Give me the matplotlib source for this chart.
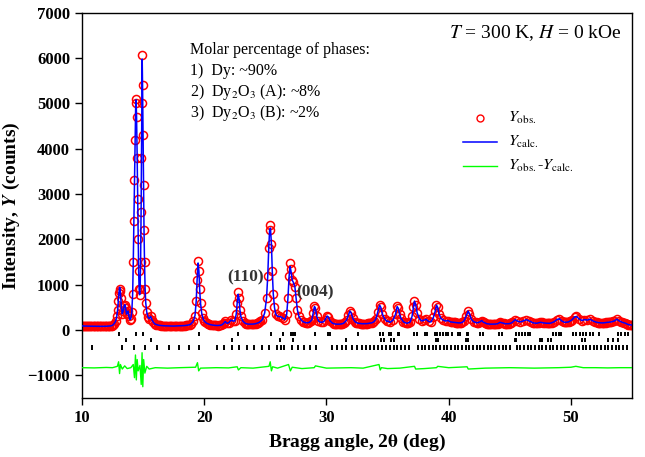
import matplotlib
matplotlib.use("Agg")
import matplotlib.pyplot as plt
import numpy as np

plt.rcParams['font.family'] = ['Liberation Serif', 'DejaVu Serif']
plt.rcParams['mathtext.fontset'] = 'stix'

obs_x = [10.0, 10.25, 10.5, 10.75, 11.0, 11.25, 11.5, 11.75, 12.0, 12.25, 12.45, 12.6,
         12.75, 12.85, 12.92, 12.98, 13.03, 13.08, 13.13, 13.18, 13.23, 13.3, 13.38, 13.45,
         13.52, 13.58, 13.65, 13.72, 13.78, 13.85, 13.92, 14.0, 14.08, 14.15, 14.2, 14.25,
         14.3, 14.35, 14.4, 14.43, 14.47, 14.52, 14.56, 14.6, 14.64, 14.68, 14.72, 14.76,
         14.8, 14.84, 14.87, 14.9, 14.93, 14.96, 15.0, 15.04, 15.08, 15.12, 15.17, 15.22,
         15.3, 15.4, 15.5, 15.62, 15.72, 15.85, 16.0, 16.3, 16.6, 17.0, 17.4, 17.8, 18.2,
         18.6, 18.9, 19.1, 19.25, 19.35, 19.42, 19.5, 19.57, 19.63, 19.7, 19.8, 19.9, 20.0,
         20.2, 20.5, 20.8, 21.1, 21.4, 21.6, 21.72, 21.85, 22.0, 22.2, 22.35, 22.5, 22.62,
         22.7, 22.78, 22.85, 22.92, 23.0, 23.15, 23.35, 23.6, 23.9, 24.2, 24.5, 24.75, 24.95,
         25.1, 25.2, 25.28, 25.35, 25.42, 25.5, 25.57, 25.65, 25.75, 25.85, 26.0, 26.15,
         26.3, 26.45, 26.6, 26.75, 26.85, 26.95, 27.03, 27.1, 27.2, 27.3, 27.42, 27.52,
         27.62, 27.75, 27.9, 28.1, 28.35, 28.6, 28.8, 28.92, 29.02, 29.1, 29.2, 29.35, 29.55,
         29.75, 29.9, 30.05, 30.15, 30.3, 30.5, 30.8, 31.1, 31.4, 31.65, 31.8, 31.92, 32.02,
         32.15, 32.35, 32.6, 32.9, 33.2, 33.5, 33.8, 34.05, 34.2, 34.35, 34.45, 34.58, 34.75,
         34.95, 35.05, 35.2, 35.45, 35.65, 35.78, 35.88, 35.98, 36.1, 36.3, 36.6, 36.85,
         37.0, 37.12, 37.2, 37.3, 37.42, 37.6, 37.8, 38.0, 38.15, 38.35, 38.55, 38.75, 38.9,
         39.0, 39.1, 39.2, 39.35, 39.55, 39.75, 39.95, 40.15, 40.4, 40.7, 41.0, 41.25, 41.45,
         41.58, 41.7, 41.85, 42.05, 42.3, 42.55, 42.7, 42.85, 43.1, 43.4, 43.7, 44.0, 44.2,
         44.35, 44.6, 44.9, 45.2, 45.45, 45.6, 45.85, 46.1, 46.35, 46.6, 46.9, 47.2, 47.5,
         47.7, 48.0, 48.3, 48.6, 48.85, 49.05, 49.25, 49.5, 49.8, 50.1, 50.3, 50.45, 50.65,
         50.9, 51.1, 51.35, 51.55, 51.8, 52.1, 52.4, 52.7, 53.0, 53.3, 53.55, 53.75, 53.95,
         54.2, 54.45, 54.7, 55.0]
obs_y = [90, 88, 86, 85, 84, 83, 82, 82, 84, 88, 100, 130,
         190, 300, 450, 650, 820, 900, 870, 700, 500, 360, 420, 530,
         560, 480, 350, 380, 420, 300, 230, 250, 400, 800, 1500, 2400,
         3300, 4200, 5000, 5100, 4700, 3800, 2900, 2000, 1300, 900, 780, 900,
         1500, 2600, 3800, 5000, 6060, 5400, 4300, 3200, 2200, 1500, 900, 600,
         400, 290, 250, 300, 230, 170, 130, 105, 95, 90, 88, 90, 95,
         105, 130, 190, 320, 650, 1100, 1520, 1300, 900, 600, 370, 260, 200,
         150, 120, 105, 100, 110, 150, 190, 150, 160, 220, 200, 200, 350,
         600, 830, 700, 450, 300, 200, 150, 130, 130, 140, 170, 230, 380,
         700, 1200, 1800, 2200, 2310, 1900, 1300, 800, 500, 350, 300, 300,
         290, 260, 230, 350, 700, 1200, 1480, 1350, 1100, 1050, 950, 700,
         450, 300, 230, 180, 160, 170, 230, 380, 520, 480, 300, 200, 170,
         180, 230, 310, 290, 200, 150, 130, 130, 150, 220, 330, 420, 380,
         260, 180, 150, 140, 140, 150, 170, 250, 400, 550, 500, 350, 250,
         190, 200, 170, 220, 350, 520, 480, 350, 260, 180, 150, 180,
         300, 500, 640, 560, 380, 250, 200, 220, 240, 190, 180, 280, 420,
         550, 500, 360, 260, 220, 200, 210, 180, 170, 160, 160, 200, 320,
         420, 360, 240, 180, 160, 180, 210, 170, 140, 130, 130, 140, 170,
         160, 140, 140, 170, 230, 200, 180, 200, 230, 200, 160, 150, 170,
         160, 150, 150, 180, 230, 250, 200, 170, 180, 230, 290, 300, 250,
         210, 230, 220, 240, 200, 170, 160, 160, 170, 180, 200, 240, 200,
         170, 150, 120, 110]

bg_x = [10.1, 10.2, 10.35, 10.45, 10.6, 10.7, 10.85, 10.95, 11.1, 11.2, 11.35, 11.45,
        11.6, 11.7, 11.85, 11.95, 12.1, 12.2, 12.35, 12.52,
        15.95, 16.1, 16.2, 16.4, 16.5, 16.7, 16.8, 16.9, 17.1, 17.2, 17.3, 17.5, 17.6,
        17.7, 17.9, 18.0, 18.1, 18.3, 18.4, 18.5, 18.7, 18.8,
        20.1, 20.3, 20.4, 20.6, 20.7, 20.9, 21.0, 21.2, 21.3, 21.5,
        23.45, 23.5, 23.7, 23.8, 24.0, 24.1, 24.3, 24.4, 24.6,
        28.2, 28.45, 28.5, 28.7,
        30.6, 30.7, 30.9, 31.0, 31.2, 31.3, 31.5,
        32.45, 32.5, 32.7, 32.8, 33.0, 33.1, 33.3, 33.4, 33.6, 33.7, 33.9,
        36.4, 36.5, 36.7,
        40.3, 40.5, 40.6, 40.8, 40.9, 41.1,
        42.2, 42.4, 43.0, 43.2, 43.3, 43.5, 43.6, 43.8, 43.9, 44.1,
        44.5, 44.7, 44.8, 45.0, 45.1,
        46.75, 47.0, 47.1, 47.35, 47.6, 47.85, 48.1, 48.2, 48.45,
        49.4, 49.6, 49.7, 49.9, 50.0,
        52.0, 52.25, 52.3, 52.55, 52.6, 52.85, 52.9, 53.15, 53.2, 53.4,
        54.1, 54.35, 54.55, 54.6, 54.85, 54.9]
bg_y = [92, 87, 89, 86, 88, 84, 86, 83, 85, 82, 84, 81,
        83, 82, 84, 83, 86, 87, 92, 110,
        140, 120, 112, 102, 98, 94, 93, 91, 90, 89, 88, 88, 89,
        89, 91, 92, 93, 96, 99, 102, 110, 118,
        175, 140, 130, 115, 110, 103, 101, 102, 105, 125,
        142, 138, 130, 130, 132, 135, 148, 158, 190,
        172, 162, 163, 195,
        142, 135, 130, 128, 135, 140, 175,
        165, 158, 148, 143, 140, 140, 142, 145, 155, 160, 190,
        168, 158, 160,
        175, 168, 163, 158, 158, 170,
        170, 165, 155, 136, 132, 130, 128, 132, 135, 155,
        150, 140, 138, 145, 155,
        180, 155, 152, 160, 168, 155, 150, 150, 165,
        180, 172, 175, 195, 210,
        180, 165, 162, 158, 158, 165, 168, 175, 178, 190,
        185, 160, 140, 130, 115, 112]

calc_overrides = {13.08: 945, 13.13: 900, 14.43: 5080, 14.93: 5980, 22.78: 790,
                  27.03: 1400, 27.1: 1300, 25.42: 2250, 19.5: 1480}

diff_x = [10.0, 11.0, 12.0, 12.5, 12.9, 13.0, 13.08, 13.15, 13.3, 13.5, 13.7, 14.0,
          14.2, 14.3, 14.38, 14.45, 14.52, 14.6, 14.75, 14.85, 14.92, 14.98, 15.05, 15.15,
          15.3, 15.5, 16.0, 17.0, 18.0, 19.3, 19.45, 19.55, 19.7, 21.0, 22.0, 22.7, 22.8,
          23.0, 24.0, 25.3, 25.4, 25.5, 25.6, 26.0, 26.9, 27.05, 27.2, 28.0, 29.0, 29.1,
          30.0, 31.0, 32.0, 33.0, 34.3, 34.4, 34.5, 35.0, 36.0, 37.2, 37.3, 38.0, 39.0,
          39.1, 40.0, 41.5, 41.6, 43.0, 44.0, 45.0, 46.0, 47.0, 48.0, 49.0, 50.0, 50.4,
          51.0, 52.0, 53.0, 54.0, 55.0]
diff_y = [-830, -835, -825, -830, -800, -700, -960, -760, -860, -790, -850, -830,
          -760, -1050, -550, -1100, -650, -900, -780, -1200, -500, -1250, -650, -950,
          -800, -860, -830, -840, -830, -820, -720, -900, -840, -830, -835, -810, -880,
          -830, -840, -800, -700, -900, -810, -840, -760, -900, -820, -850, -830, -790,
          -840, -835, -830, -840, -760, -880, -830, -850, -840, -800, -860, -850, -830,
          -800, -830, -810, -860, -840, -835, -830, -835, -840, -835, -830, -820, -800,
          -830, -830, -835, -830, -830]

# ---- Bragg reflection positions ----
refl_dy = [13.05, 14.42, 14.96, 19.57, 22.78, 25.46, 26.41, 27.09, 27.28, 27.42, 29.05,
           30.14, 30.28, 32.57, 34.37, 34.59, 35.13, 35.32, 35.86, 35.94, 37.17, 37.37,
           38.05, 38.19, 38.86, 39.08, 39.27, 39.54, 39.76, 39.95, 40.23, 40.72, 40.91,
           41.46, 41.59, 42.6, 42.81, 44.12, 44.32, 45.54, 45.73, 45.98, 46.22, 46.47,
           46.63, 48.54, 48.81, 49.03, 49.22, 50.17, 50.45, 50.72, 50.99, 51.27, 51.54,
           51.81, 52.3, 53.85, 54.13, 54.4, 54.67]
refl_a = [13.57, 15.62, 22.24, 26.19, 27.28, 31.64, 34.5, 34.69, 35.32, 35.54, 38.94,
          39.13, 41.4, 41.59, 45.4, 45.54, 47.45, 47.67, 48.13, 48.35, 50.94, 51.13,
          53.03, 53.44, 53.85]
refl_b = [10.84, 13.3, 14.28, 15.2, 16.15, 17.1, 17.93, 18.75, 19.57, 21.01, 21.64,
          22.24, 22.86, 23.47, 24.09, 24.74, 25.31, 25.92, 26.27, 26.54, 27.15, 27.69,
          28.15, 28.64, 29.13, 30.42, 30.83, 31.24, 31.64, 32.05, 32.46, 32.88, 33.25,
          33.6, 33.92, 34.22, 34.55, 34.85, 35.18, 35.5, 35.8, 36.1, 36.45, 36.75, 37.45,
          37.78, 38.1, 38.4, 38.72, 39.0, 39.3, 39.62, 39.9, 40.2, 40.5, 40.8, 41.1, 41.4,
          41.7, 42.0, 42.3, 42.6, 42.9, 43.2, 43.5, 43.8, 44.1, 44.4, 44.7, 45.0, 45.55,
          45.85, 46.15, 46.45, 46.75, 47.05, 47.35, 47.65, 47.95, 48.25, 48.55, 48.85,
          49.15, 49.45, 49.75, 50.05, 50.35, 50.65, 50.95, 51.25, 51.55, 51.85, 52.15,
          52.45, 52.75, 53.05, 53.35, 53.65, 53.95, 54.25, 54.55]

x_ticks = [10, 20, 30, 40, 50]
y_ticks = [-1000, 0, 1000, 2000, 3000, 4000, 5000, 6000, 7000]

# merge observed points into one sorted series
all_x = np.array(obs_x + bg_x)
all_y = np.array(obs_y + bg_y)
order = np.argsort(all_x)
all_x = all_x[order]
all_y = all_y[order]
calc_y = np.array([calc_overrides.get(float(x), y) for x, y in zip(all_x, all_y)])

fig = plt.figure(figsize=(6.45, 4.57), dpi=100)
ax = fig.add_axes([0.127, 0.129, 0.853, 0.843])

ax.plot(all_x, all_y, linestyle='none', marker='o', markersize=5.8,
        markerfacecolor='none', markeredgecolor='red', markeredgewidth=1.1, zorder=2)
ax.plot(all_x, calc_y, color='#0000ff', lw=1.1, zorder=3)
ax.plot(diff_x, diff_y, color='#00ff00', lw=1.0, zorder=3)

ax.vlines(refl_dy, -130, -50, color='black', lw=1.4)
ax.vlines(refl_a, -260, -170, color='black', lw=1.4)
ax.vlines(refl_b, -440, -330, color='black', lw=1.4)

ax.set_xlim(10, 55)
ax.set_ylim(-1500, 7000)
ax.set_xticks(x_ticks)
ax.set_yticks(y_ticks)
ax.tick_params(direction='out', length=5, width=1, labelsize=12)
for lab in ax.get_xticklabels() + ax.get_yticklabels():
    lab.set_fontweight('bold')
for s in ax.spines.values():
    s.set_linewidth(1.0)

ax.set_xlabel(r'Bragg angle, 2$\mathbf{\theta}$ (deg)', fontsize=14, fontweight='bold', labelpad=4)
ax.set_ylabel(r'Intensity, $\mathbfit{Y}$ (counts)', fontsize=14, fontweight='bold', labelpad=4)

ax.text(0.982, 0.948, r'$T$ = 300 K, $H$ = 0 kOe', transform=ax.transAxes,
        ha='right', va='center', fontsize=14)

molar = ['Molar percentage of phases:', '1)  Dy: ~90%',
         r'2)  Dy$_2$O$_3$ (A): ~8%', r'3)  Dy$_2$O$_3$ (B): ~2%']
for i, t in enumerate(molar):
    ax.text(0.196, 0.904 - i * 0.0545, t, transform=ax.transAxes,
            ha='left', va='center', fontsize=11.5)

ax.text(23.4, 1165, '(110)', ha='center', va='center', fontsize=12.5, fontweight='bold', color='#333333')
ax.text(29.1, 835, '(004)', ha='center', va='center', fontsize=12.5, fontweight='bold', color='#333333')

# legend drawn in axes coordinates
ax.plot([0.724], [0.727], transform=ax.transAxes, marker='o', markersize=5,
        markerfacecolor='none', markeredgecolor='red', markeredgewidth=1.0)
ax.plot([0.693, 0.755], [0.665, 0.665], transform=ax.transAxes, color='#0000ff', lw=1.1)
ax.plot([0.693, 0.755], [0.603, 0.603], transform=ax.transAxes, color='#00ff00', lw=1.0)
leg_labels = [r'$Y_{\rm obs.}$', r'$Y_{\rm calc.}$', r'$Y_{\rm obs.}$-$Y_{\rm calc.}$']
for yy, t in zip([0.727, 0.665, 0.603], leg_labels):
    ax.text(0.775, yy, t, transform=ax.transAxes, ha='left', va='center', fontsize=11.5)

fig.savefig('out.png', dpi=100)
